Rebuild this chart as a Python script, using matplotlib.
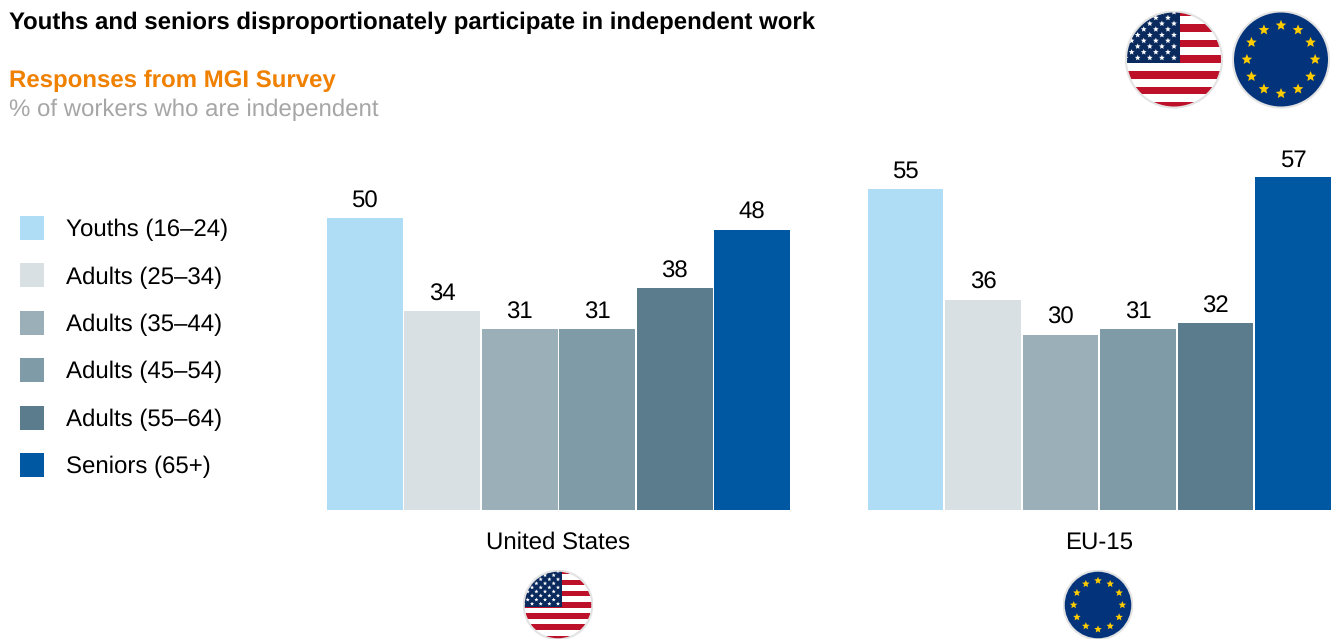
import numpy as np
import matplotlib
matplotlib.use("Agg")
import matplotlib.pyplot as plt
from matplotlib.patches import Circle, Patch, Polygon, Rectangle

plt.rcParams['font.family'] = ['Liberation Sans', 'DejaVu Sans']
plt.rcParams['text.hinting'] = 'no_hinting'
plt.rcParams['text.hinting_factor'] = 1

# chart data
regions = ["United States", "EU-15"]
age_groups = ["Youths (16–24)", "Adults (25–34)", "Adults (35–44)",
              "Adults (45–54)", "Adults (55–64)", "Seniors (65+)"]
us_values = [50, 34, 31, 31, 38, 48]
eu_values = [55, 36, 30, 31, 32, 57]
colors = ["#AEDDF5", "#D8E0E3", "#9AAFB8", "#7F9BA7", "#5A7C8C", "#0058A3"]

W, H = 1332, 639
PX_PER_UNIT = 5.84
BAR_PX = 77.5
GROUP_STEP = 6.98


def star_points(cx, cy, r):
    angles = np.pi / 2 + np.arange(10) * np.pi / 5
    radii = np.where(np.arange(10) % 2 == 0, r, r * 0.45)
    return np.column_stack((cx + radii * np.cos(angles), cy + radii * np.sin(angles)))


def flag_axes(fig, cx, cy, r):
    # cx, cy, r in pixels from the top left corner of the picture
    ax = fig.add_axes([(cx - r) / W, 1 - (cy + r) / H, 2 * r / W, 2 * r / H])
    ax.set_xlim(-1.02, 1.02)
    ax.set_ylim(-1.02, 1.02)
    ax.axis("off")
    return ax


def add_clipped(ax, patch, clip):
    ax.add_patch(patch)
    patch.set_clip_path(clip)


def draw_us_flag(fig, cx, cy, r):
    ax = flag_axes(fig, cx, cy, r)
    clip = Circle((0, 0), 1, fc="white", ec="none")
    ax.add_patch(clip)
    for k in range(-1, 6):
        top = 0.735 - 2 * k * 0.1625
        add_clipped(ax, Rectangle((-1.1, top - 0.16), 2.2, 0.16, fc="#BD1029", ec="none"), clip)
    add_clipped(ax, Rectangle((-1.1, -0.07), 1.22, 1.2, fc="#0A2A5E", ec="none"), clip)
    for row in range(9):
        y = 0.034 + row * 0.119
        for col in range(5):
            x = -col * 0.252 - (0.126 if row % 2 else 0)
            star = Polygon(star_points(x, y, 0.062), fc="white", ec="none")
            add_clipped(ax, star, clip)
    ax.add_patch(Circle((0, 0), 1, fc="none", ec="#E3E3E3", lw=1.5))


def draw_eu_flag(fig, cx, cy, r):
    ax = flag_axes(fig, cx, cy, r)
    ax.add_patch(Circle((0, 0), 1, fc="#03337A", ec="#E3E3E3", lw=1.5))
    for k in range(12):
        a = np.pi / 2 - k * np.pi / 6
        ax.add_patch(Polygon(star_points(0.71 * np.cos(a), 0.71 * np.sin(a), 0.115),
                             fc="#FFCC00", ec="none"))


fig = plt.figure(figsize=(W / 100, H / 100), dpi=100, facecolor="white")

# bars, on value scale
left, right, base, top = 326, 1331, 510, 130
ax = fig.add_axes([left / W, 1 - base / H, (right - left) / W, (base - top) / H])
x_us = np.arange(len(us_values)) + 0.5
x_eu = x_us + GROUP_STEP
bars_us = ax.bar(x_us, us_values, width=0.975, color=colors)
bars_eu = ax.bar(x_eu, eu_values, width=0.975, color=colors)
ax.bar_label(bars_us, padding=4, fontsize=17.3, color="black")
ax.bar_label(bars_eu, padding=4, fontsize=17.3, color="black")
ax.set_xlim(0, (right - left) / BAR_PX)
ax.set_ylim(0, (base - top) / PX_PER_UNIT)
ax.set_yticks([])
ax.set_xticks([x_us.mean(), x_eu.mean()], regions, fontsize=17.3, color="black")
ax.tick_params(axis="x", length=0, pad=15.5)
for s in ax.spines.values():
    s.set_visible(False)

# titles
fig.text(9 / W, 1 - 23 / H, "Youths and seniors disproportionately participate in independent work",
         fontsize=17.35, fontweight="bold", color="black", va="center")
fig.text(9 / W, 1 - 81 / H, "Responses from MGI Survey",
         fontsize=17.3, fontweight="bold", color="#F08000", va="center")
fig.text(9 / W, 1 - 110 / H, "% of workers who are independent",
         fontsize=17.3, color="#A6A6A6", va="center")

# legend
font_pt = 17.5
font_px = font_pt * 100 / 72
handles = [Patch(fc=c, ec="none") for c in colors]
fig.legend(handles, age_groups, loc="upper left", bbox_to_anchor=(19.5 / W, 1 - 216 / H),
           frameon=False, fontsize=font_pt, borderpad=0, borderaxespad=0,
           handlelength=24 / font_px, handleheight=1.143,
           handletextpad=22 / font_px, labelspacing=22.2 / font_px)

# flags
draw_us_flag(fig, 1174, 59.5, 49)
draw_eu_flag(fig, 1281, 59.5, 49)
draw_us_flag(fig, 558, 605, 35)
draw_eu_flag(fig, 1098, 605, 35)

fig.savefig("out.png", dpi=100)
